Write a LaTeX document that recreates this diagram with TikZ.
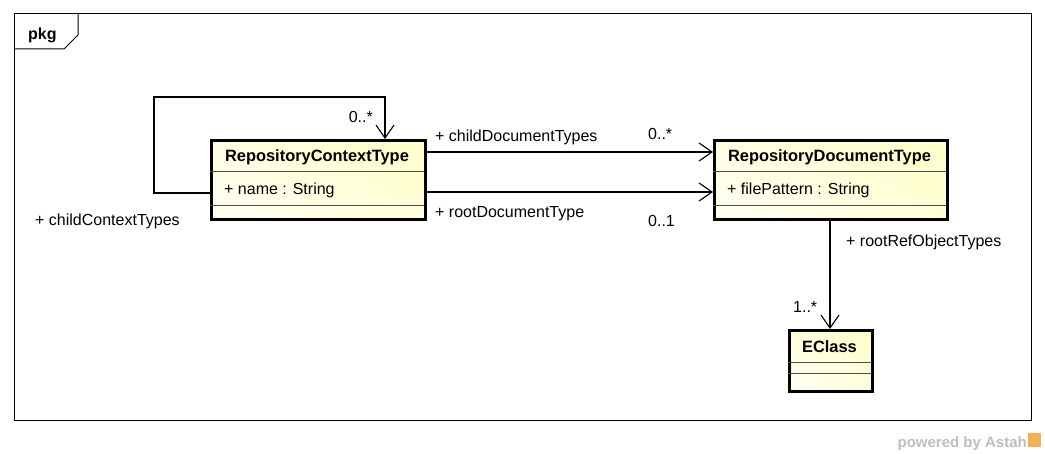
\documentclass[tikz,border=0pt]{standalone}
\usepackage{fontspec}
\setmainfont{Liberation Sans}
\usetikzlibrary{arrows.meta}
\definecolor{classtop}{RGB}{255,255,205}
\definecolor{classbot}{RGB}{255,255,238}
\definecolor{wmgray}{RGB}{190,190,190}
\definecolor{wmorange}{RGB}{245,175,90}
\tikzset{
  classbox/.style={draw, line width=2.6pt, anchor=north west, inner sep=0pt,
    shading=axis, top color=classtop, bottom color=classbot, shading angle=-30},
  divider/.style={line width=0.8pt, draw=black!70},
  cname/.style={font=\fontsize{16.4}{18}\selectfont\bfseries, inner sep=0pt, anchor=base},
  attr/.style={font=\fontsize{16}{18}\selectfont, inner sep=0pt, anchor=base west},
  lbl/.style={font=\fontsize{16}{18}\selectfont, inner sep=0pt, anchor=base west},
  assoc/.style={line width=1.1pt, -{Straight Barb[length=13pt,width=18pt,line width=1.1pt]}},
}
\begin{document}
\begin{tikzpicture}[x=1pt,y=-1pt]
\useasboundingbox (0,0) rectangle (1045,454);
\fill[white] (0,0) rectangle (1045,454);

% package frame with its tab
\draw[line width=1pt] (14,14) rectangle (1031,421);
\draw[line width=1pt] (14,49) -- (64,49) -- (78,35) -- (78,14);
\node[font=\fontsize{16}{18}\selectfont\bfseries, inner sep=0pt, anchor=base west] (pkg) at (28,40) {pkg};

% RepositoryContextType
\node[classbox, minimum width=214pt, minimum height=79pt] (ctx) at (210,139) {};
\draw[divider] (210,171) -- (424,171);
\draw[divider] (210,205) -- (424,205);
\node[cname] (ctxname) at (317,162) {RepositoryContextType};
\node[attr] (ctxattr) at (224,195) {+ name : String};

% RepositoryDocumentType
\node[classbox, minimum width=233pt, minimum height=79pt] (doc) at (713,139) {};
\draw[divider] (713,171) -- (946,171);
\draw[divider] (713,205) -- (946,205);
\node[cname] (docname) at (829.5,162) {RepositoryDocumentType};
\node[attr] (docattr) at (727,195) {+ filePattern : String};

% EClass
\node[classbox, minimum width=83pt, minimum height=61pt] (ecls) at (788,329) {};
\draw[divider] (788,362) -- (871,362);
\draw[divider] (788,373) -- (871,373);
\node[cname] (eclsname) at (829.5,353) {EClass};

% self association childContextTypes
\coordinate (s1) at (154,193);
\coordinate (s2) at (154,97);
\coordinate (s3) at (385,97);
\draw[assoc] (ctx.west |- s1) -- (s1) -- (s2) -- (s3) -- (s3 |- ctx.north);
\node[lbl, anchor=base east] (m1) at (373,123) {0..*};
\node[lbl] (r1) at (35,226) {+ childContextTypes};

% childDocumentTypes
\coordinate (c1) at (0,152);
\draw[assoc] (ctx.east |- c1) -- (doc.west |- c1);
\node[lbl] (r2) at (435,142) {+ childDocumentTypes};
\node[lbl] (m2) at (648,140) {0..*};

% rootDocumentType
\coordinate (c2) at (0,192);
\draw[assoc] (ctx.east |- c2) -- (doc.west |- c2);
\node[lbl] (r3) at (435,218) {+ rootDocumentType};
\node[lbl] (m3) at (648,227) {0..1};

% rootRefObjectTypes
\coordinate (c3) at (830,0);
\draw[assoc] (c3 |- doc.south) -- (c3 |- ecls.north);
\node[lbl] (r4) at (846,247) {+ rootRefObjectTypes};
\node[lbl] (m4) at (793,313) {1..*};

% watermark
\node[font=\fontsize{15}{17}\selectfont\bfseries, text=wmgray, inner sep=0pt, anchor=base east] (wm) at (1027,447) {powered by Astah};
\fill[wmorange] (1028,433) rectangle (1041,447);
\end{tikzpicture}
\end{document}
